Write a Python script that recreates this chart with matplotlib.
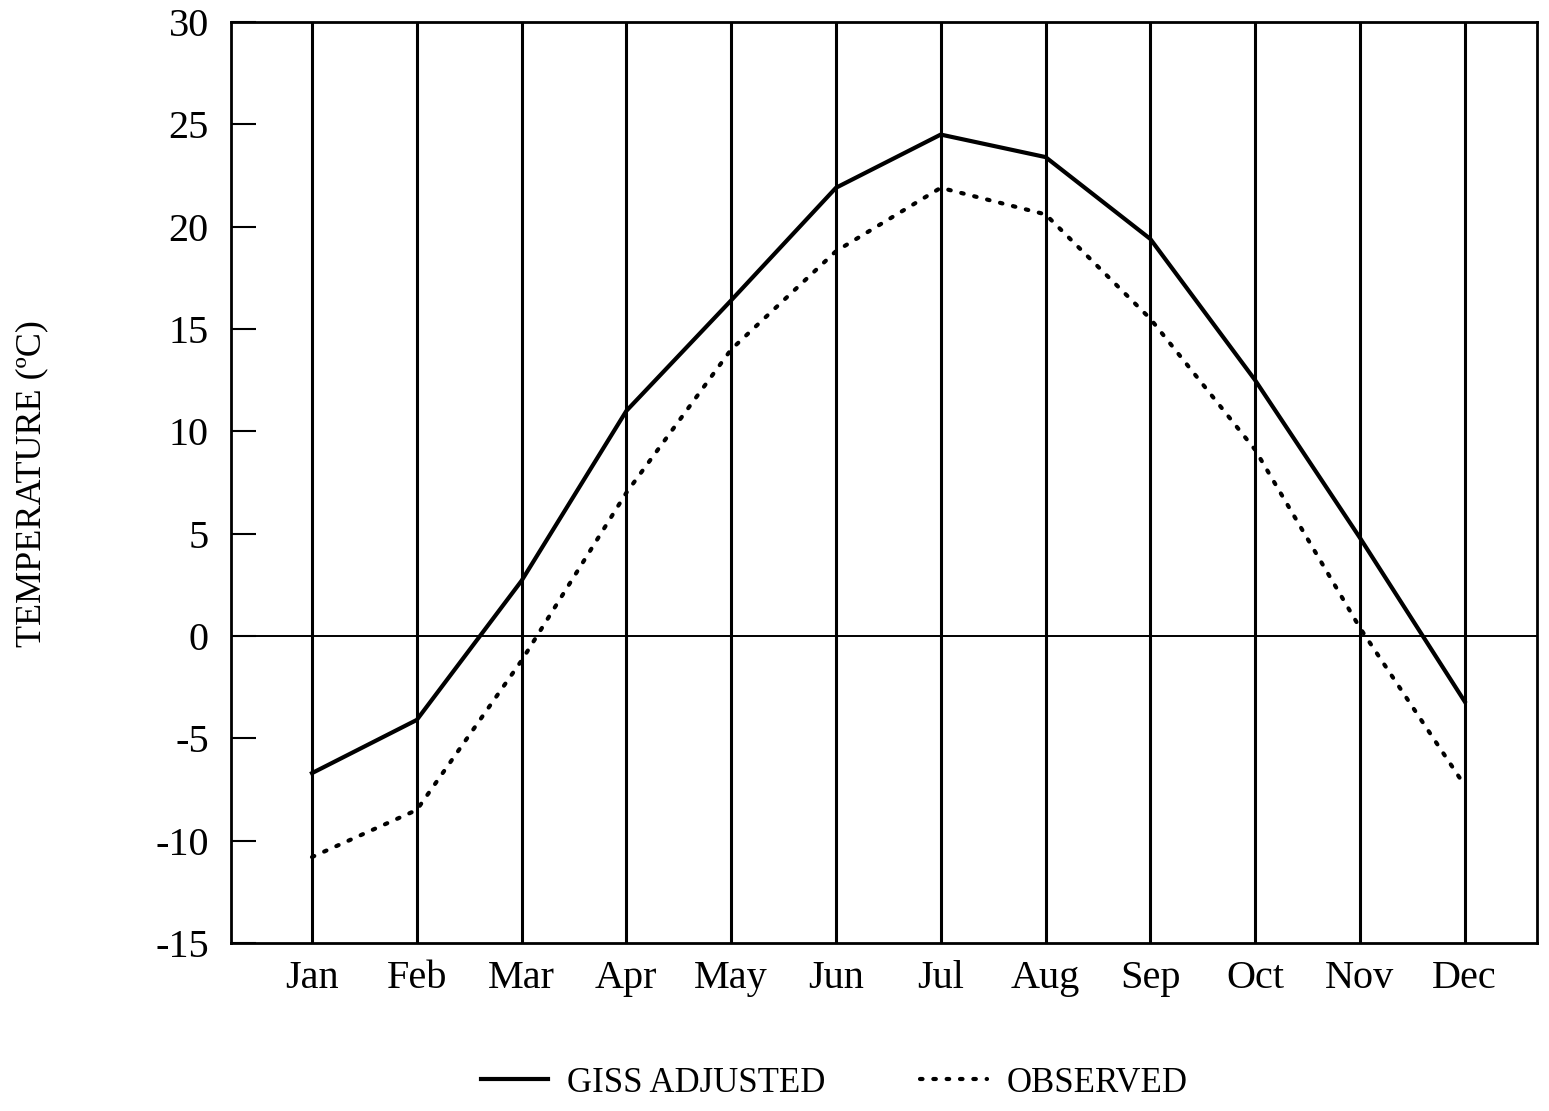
import matplotlib.pyplot as plt
from matplotlib.lines import Line2D

months = ['Jan', 'Feb', 'Mar', 'Apr', 'May', 'Jun', 'Jul', 'Aug', 'Sep', 'Oct', 'Nov', 'Dec']
giss_adjusted = [-6.7, -4.1, 2.7, 11.0, 16.4, 21.9, 24.5, 23.4, 19.4, 12.5, 4.8, -3.2]
observed = [-10.8, -8.5, -1.2, 7.0, 14.0, 18.8, 21.9, 20.6, 15.5, 9.1, 0.4, -7.3]
y_ticks = [-15, -10, -5, 0, 5, 10, 15, 20, 25, 30]

plt.rcParams['font.family'] = ['Liberation Serif', 'DejaVu Serif']
plt.rcParams['axes.unicode_minus'] = False

fig = plt.figure(figsize=(15.49, 11.11), dpi=100)
ax = fig.add_axes([231 / 1549, 1 - 943 / 1111, (1537 - 231) / 1549, (943 - 22) / 1111])

x = list(range(1, len(months) + 1))

# vertical month lines and zero line
for xi in x:
    ax.axvline(xi, color='black', lw=2.2, zorder=1)
ax.axhline(0, color='black', lw=1.4, zorder=1)

dotted = (0, (0.6, 2.6))
ax.plot(x, giss_adjusted, color='black', lw=3.0, zorder=3)
ax.plot(x, observed, color='black', lw=3.0, linestyle=dotted,
        dash_capstyle='round', zorder=3)

ax.set_xlim(0.227, 12.69)
ax.set_ylim(-15, 30)
ax.set_xticks(x)
ax.set_xticklabels(months)
ax.set_yticks(y_ticks)
ax.tick_params(axis='x', length=0, pad=12, labelsize=29)
ax.tick_params(axis='y', direction='in', length=18, width=1.5, pad=16, labelsize=29)
for s in ax.spines.values():
    s.set_linewidth(2.0)

fig.text(32 / 1549, 1 - 484 / 1111, 'TEMPERATURE (\u00baC)', rotation=90,
         ha='center', va='center', fontsize=26)

handles = [Line2D([], [], color='black', lw=3.0),
           Line2D([], [], color='black', lw=3.0, linestyle=dotted, dash_capstyle='round')]
fig.legend(handles, ['GISS ADJUSTED', 'OBSERVED'], loc='center',
           bbox_to_anchor=(834 / 1549, 1 - 1083 / 1111), ncol=2, frameon=False,
           fontsize=25, handlelength=1.95, columnspacing=2.7, handletextpad=0.55)

fig.savefig('out.png', dpi=100)
